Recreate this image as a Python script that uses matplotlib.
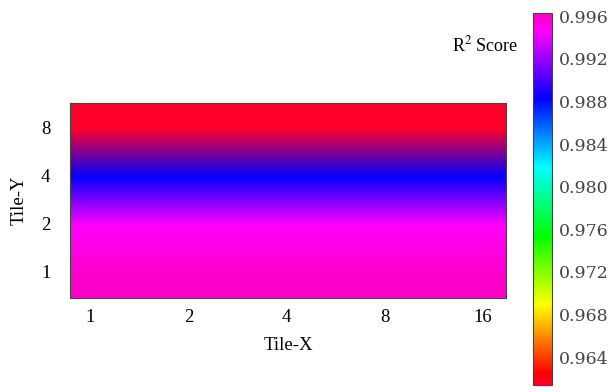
import numpy as np
import matplotlib.pyplot as plt

plt.rcParams['mathtext.fontset'] = 'stix'

tile_x = ['1', '2', '4', '8', '16']
tile_y = ['1', '2', '4', '8']
# R^2 score per Tile-Y row (same for every Tile-X column)
r2_row_1 = [0.9960, 0.9960, 0.9960, 0.9960, 0.9960]
r2_row_2 = [0.9948, 0.9948, 0.9948, 0.9948, 0.9948]
r2_row_4 = [0.9883, 0.9883, 0.9883, 0.9883, 0.9883]
r2_row_8 = [0.9615, 0.9615, 0.9615, 0.9615, 0.9615]
vmin, vmax = 0.9614, 0.9963

Z = np.array([r2_row_1, r2_row_2, r2_row_4, r2_row_8])

fig = plt.figure(figsize=(6.08, 3.92), dpi=100)
ax = fig.add_axes([0.115, 0.24, 0.718, 0.497])
cax = fig.add_axes([0.877, 0.018, 0.031, 0.949])

im = ax.imshow(Z, cmap='gist_rainbow', vmin=vmin, vmax=vmax, origin='lower',
               aspect='auto', interpolation='bilinear', interpolation_stage='rgba',
               extent=[-0.21, 4.24, -0.55, 3.5])
ax.set_xlim(-0.21, 4.24)
ax.set_ylim(-0.55, 3.5)
ax.set_xticks(range(len(tile_x)), tile_x)
ax.set_yticks(range(len(tile_y)), tile_y)
ax.tick_params(axis='x', length=0, labelsize=13.5, pad=8)
ax.tick_params(axis='y', length=0, labelsize=13.5, pad=14)
for lab in ax.get_xticklabels() + ax.get_yticklabels():
    lab.set_family('Liberation Serif')
for s in ax.spines.values():
    s.set_color('#444444')
ax.set_xlabel('Tile-X', family='Liberation Serif', fontsize=13.5, labelpad=8)
ax.set_ylabel('Tile-Y', family='Liberation Serif', fontsize=13.5, labelpad=10)

cb = fig.colorbar(im, cax=cax)
cb.set_ticks([0.964, 0.968, 0.972, 0.976, 0.980, 0.984, 0.988, 0.992, 0.996])
cb.ax.set_yticklabels(['%.3f' % t for t in cb.get_ticks()])
cb.ax.tick_params(length=0, labelsize=12.5, labelcolor='#444444', pad=5)
for lab in cb.ax.get_yticklabels():
    lab.set_family('DejaVu Serif')
cb.outline.set_edgecolor('#444444')

fig.text(0.798, 0.885, 'R$^2$ Score', family='Liberation Serif', fontsize=13,
         ha='center', va='center')

plt.savefig('out.png', dpi=100)
